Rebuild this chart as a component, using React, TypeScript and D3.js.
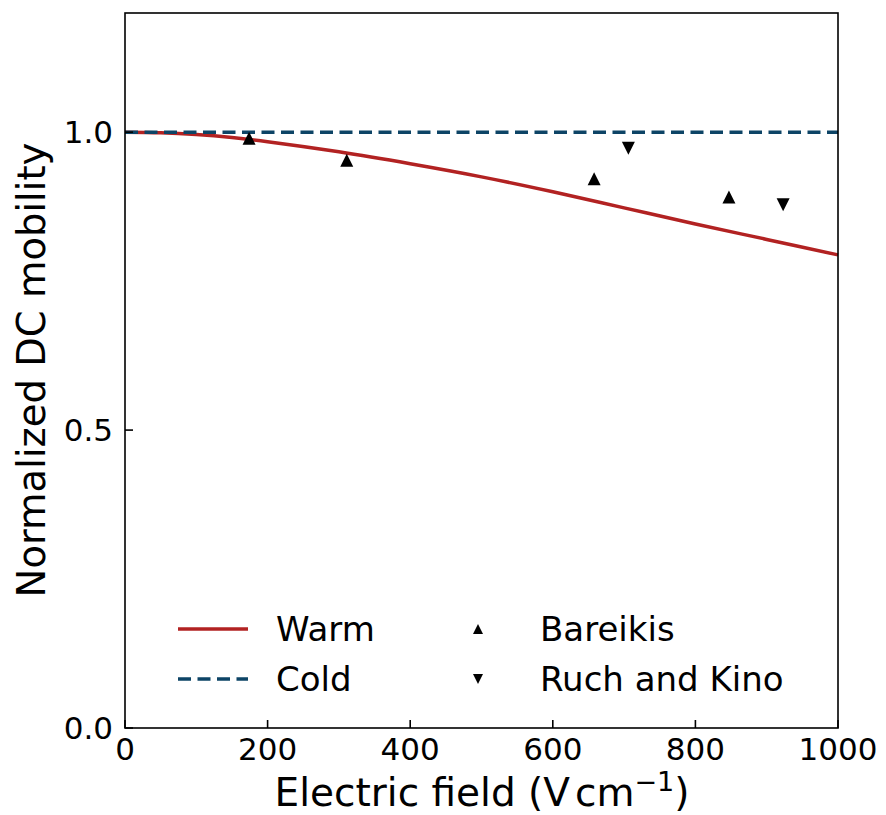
import React from "react";
import * as d3 from "d3";

const warmField = [0, 50, 100, 150, 200, 300, 400, 500, 600, 700, 800, 900, 1000];
const warmMobility = [1.0, 0.999, 0.996, 0.991, 0.984, 0.967, 0.947, 0.925, 0.9, 0.873, 0.846, 0.82, 0.794];
const coldField = [0, 1000];
const coldMobility = [1.0, 1.0];
const bareikisField = [174, 311, 658, 847];
const bareikisMobility = [0.99, 0.953, 0.922, 0.891];
const ruchField = [706, 923];
const ruchMobility = [0.973, 0.878];
const xTicks = [0, 200, 400, 600, 800, 1000];
const yTicks = [0.0, 0.5, 1.0];

const W = 886, H = 815;
const M = { left: 125, right: 838, top: 13, bottom: 728 };
const RED = "#b22222";
const BLUE = "#0d4466";
const FONT = "DejaVu Sans, sans-serif";

function tri(cx: number, cy: number, s: number, up: boolean) {
  const h = s;
  const w = s;
  if (up) return `M${cx},${cy - h / 2}L${cx + w / 2},${cy + h / 2}L${cx - w / 2},${cy + h / 2}Z`;
  return `M${cx},${cy + h / 2}L${cx + w / 2},${cy - h / 2}L${cx - w / 2},${cy - h / 2}Z`;
}

export default function App() {
  const x = d3.scaleLinear().domain([0, 1000]).range([M.left, M.right]);
  const y = d3.scaleLinear().domain([0, 1.2]).range([M.bottom, M.top]);
  const line = d3.line<number>().x((d, i) => x(warmField[i])).y((d) => y(d)).curve(d3.curveCatmullRom);
  const coldLine = d3.line<number>().x((d, i) => x(coldField[i])).y((d) => y(d));

  return (
    <svg width={W} height={H} style={{ position: "absolute", left: 0, top: 0 }}>
      <rect width={W} height={H} fill="#fff" />
      <path d={line(warmMobility) || ""} fill="none" stroke={RED} strokeWidth={3.5} />
      <path d={coldLine(coldMobility) || ""} fill="none" stroke={BLUE} strokeWidth={3.5} strokeDasharray="13,6.5" />
      {bareikisField.map((f, i) => (
        <path key={"b" + i} d={tri(x(f), y(bareikisMobility[i]), 13, true)} fill="#000" />
      ))}
      {ruchField.map((f, i) => (
        <path key={"r" + i} d={tri(x(f), y(ruchMobility[i]), 13, false)} fill="#000" />
      ))}
      <rect x={M.left} y={M.top} width={M.right - M.left} height={M.bottom - M.top} fill="none" stroke="#000" strokeWidth={1.6} />
      {xTicks.map((t) => (
        <g key={"x" + t}>
          <line x1={x(t)} x2={x(t)} y1={M.bottom} y2={M.bottom - 8} stroke="#000" strokeWidth={1.6} />
          <text x={x(t)} y={760} textAnchor="middle" fontFamily={FONT} fontSize={31}>{t}</text>
        </g>
      ))}
      {yTicks.map((t) => (
        <g key={"y" + t}>
          <line x1={M.left} x2={M.left + 8} y1={y(t)} y2={y(t)} stroke="#000" strokeWidth={1.6} />
          <text x={113} y={y(t)} dy="0.36em" textAnchor="end" fontFamily={FONT} fontSize={31}>{t.toFixed(1)}</text>
        </g>
      ))}
      <text x={482} y={806} textAnchor="middle" fontFamily={FONT} fontSize={39}>
        Electric field (V<tspan dx={5}>cm</tspan><tspan dy={-15} fontSize={27}>−1</tspan><tspan dy={15}>)</tspan>
      </text>
      <text transform={`translate(45,${370}) rotate(-90)`} textAnchor="middle" fontFamily={FONT} fontSize={38.5}>
        Normalized DC mobility
      </text>
      <g fontFamily={FONT} fontSize={34}>
        <line x1={178} x2={248} y1={629} y2={629} stroke={RED} strokeWidth={3.5} />
        <text x={276} y={641}>Warm</text>
        <line x1={178} x2={248} y1={679} y2={679} stroke={BLUE} strokeWidth={3.5} strokeDasharray="13,6.5" />
        <text x={276} y={691}>Cold</text>
        <path d={tri(478, 629, 10, true)} fill="#000" />
        <text x={540} y={641}>Bareikis</text>
        <path d={tri(478, 679, 10, false)} fill="#000" />
        <text x={540} y={691}>Ruch and Kino</text>
      </g>
    </svg>
  );
}
